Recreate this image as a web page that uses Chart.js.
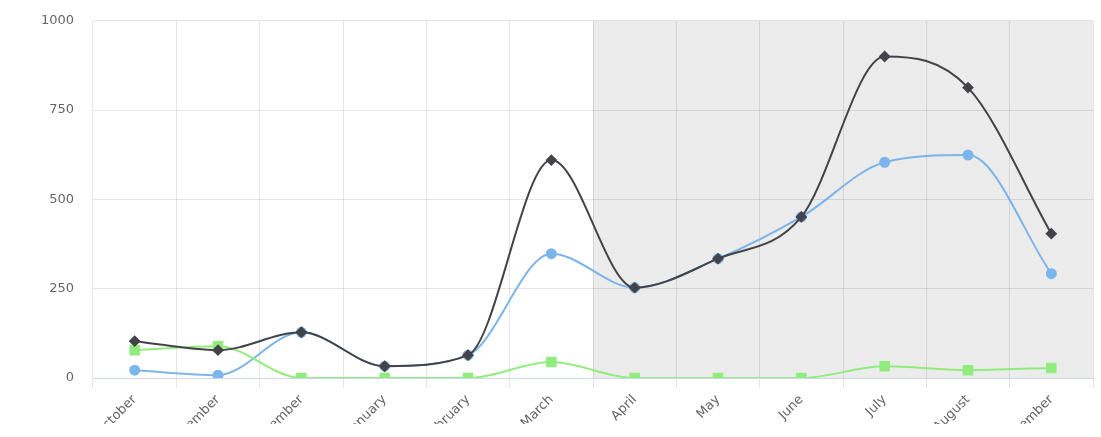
<!DOCTYPE html>
<html>
<head>
<meta charset="utf-8">
<script src="https://cdn.jsdelivr.net/npm/chart.js@4/dist/chart.umd.min.js"></script>
<style>
  html, body { margin: 0; padding: 0; background: #fff; overflow: hidden; }
  #clip { width: 1101px; height: 424px; overflow: hidden; position: relative; }
  #wrap { width: 1101px; height: 430px; position: absolute; top: -6px; left: 0; }
</style>
</head>
<body>
<div id="clip"><div id="wrap"><canvas id="c"></canvas></div></div>
<script>
// Months of the season, October through September
const months = ['October', 'November', 'December', 'January', 'February', 'March',
                'April', 'May', 'June', 'July', 'August', 'September'];

// Series values per month
const seriesBlue  = [22, 8, 128, 33, 64, 348, 253, 334, 451, 604, 624, 292];
const seriesDark  = [103, 78, 128, 33, 64, 610, 253, 334, 451, 900, 813, 404];
const seriesGreen = [78, 89, 0, 0, 0, 45, 0, 0, 0, 33, 22, 28];

// Value-axis ticks
const yTicks = [0, 250, 500, 750, 1000];

// Index of the first month in the shaded period
const shadeFrom = 6;

const shadePlugin = {
  id: 'shadePeriod',
  beforeDraw(chart) {
    const { ctx, chartArea, scales } = chart;
    const x = scales.x;
    const left = (x.getPixelForValue(shadeFrom - 1) + x.getPixelForValue(shadeFrom)) / 2;
    ctx.save();
    ctx.fillStyle = '#ececec';
    ctx.fillRect(left, chartArea.top, chartArea.right - left, chartArea.bottom - chartArea.top);
    ctx.restore();
  }
};

const font = { family: '"DejaVu Sans", sans-serif', size: 13 };

const lineStyle = { borderWidth: 2, cubicInterpolationMode: 'monotone' };

new Chart(document.getElementById('c'), {
  type: 'line',
  data: {
    labels: months,
    datasets: [
      Object.assign({
        data: seriesBlue,
        borderColor: '#7cb5ec', backgroundColor: '#7cb5ec',
        pointStyle: 'circle', pointRadius: 4.5, order: 3
      }, lineStyle),
      Object.assign({
        data: seriesGreen,
        borderColor: '#90ed7d', backgroundColor: '#90ed7d',
        pointStyle: 'rect', pointRadius: 6, order: 2
      }, lineStyle),
      Object.assign({
        data: seriesDark,
        borderColor: '#434348', backgroundColor: '#434348',
        pointStyle: 'rectRot', pointRadius: 4.5, order: 1
      }, lineStyle)
    ]
  },
  options: {
    responsive: true,
    maintainAspectRatio: false,
    animation: false,
    layout: { padding: { top: 13, right: 6, left: 0, bottom: 0 } },
    plugins: { legend: { display: false }, tooltip: { enabled: false } },
    elements: { point: { borderWidth: 0 } },
    scales: {
      x: {
        offset: true,
        grid: {
          offset: true,
          color: 'rgba(0,0,0,0.1)',
          lineWidth: 1,
          tickLength: 10,
          drawTicks: true
        },
        border: { display: true, color: '#ccd6eb', width: 1 },
        ticks: {
          autoSkip: false,
          minRotation: 45,
          maxRotation: 45,
          color: '#666666',
          font: font,
          padding: 4
        },
        afterFit(scale) { scale.height = 46; }
      },
      y: {
        min: 0,
        max: 1000,
        afterBuildTicks(scale) { scale.ticks = yTicks.map(v => ({ value: v })); },
        grid: { color: 'rgba(0,0,0,0.1)', drawTicks: false },
        border: { display: false },
        ticks: {
          color: '#666666',
          font: font,
          padding: 19,
          callback: v => String(v)
        },
        afterFit(scale) { scale.width = 93; }
      }
    }
  },
  plugins: [shadePlugin]
});
</script>
</body>
</html>
